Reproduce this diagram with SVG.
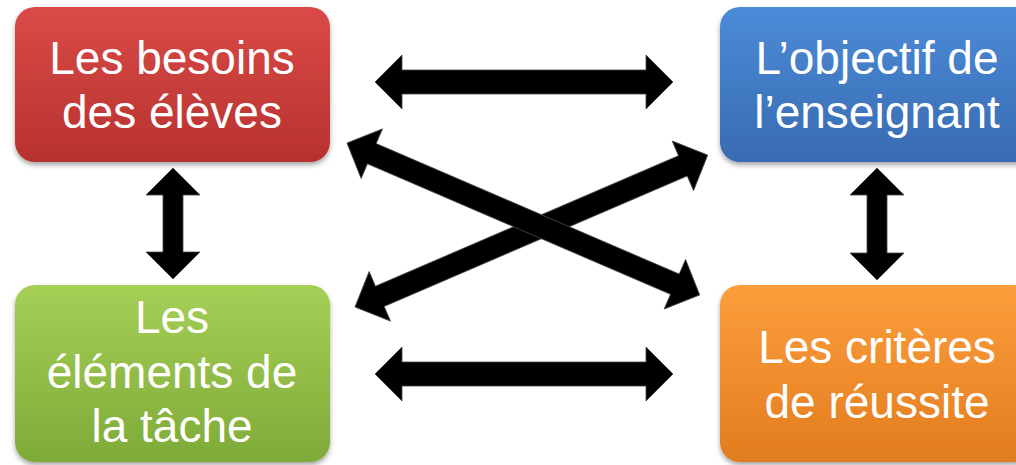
<svg xmlns="http://www.w3.org/2000/svg" width="1016" height="465" viewBox="0 0 1016 465">
<style>
.box{stroke:none;filter:url(#sh)}
.lbl{font-family:"Liberation Sans",Arial,sans-serif;font-size:46px;fill:#fff;text-anchor:middle}
.arr{fill:#000;stroke:#444;stroke-width:0.8}
</style>
<defs>
<linearGradient id="gr" x1="0" y1="0" x2="0" y2="1"><stop offset="0" stop-color="#DA4A47"/><stop offset="1" stop-color="#B73230"/></linearGradient>
<linearGradient id="gb" x1="0" y1="0" x2="0" y2="1"><stop offset="0" stop-color="#4C8BD8"/><stop offset="1" stop-color="#386BB1"/></linearGradient>
<linearGradient id="gg" x1="0" y1="0" x2="0" y2="1"><stop offset="0" stop-color="#A6CF56"/><stop offset="1" stop-color="#7EAA38"/></linearGradient>
<linearGradient id="go" x1="0" y1="0" x2="0" y2="1"><stop offset="0" stop-color="#FC9E3B"/><stop offset="1" stop-color="#E27C20"/></linearGradient>
<filter id="sh" x="-10%" y="-10%" width="120%" height="125%"><feDropShadow dx="0" dy="3" stdDeviation="2.5" flood-color="#000" flood-opacity="0.35"/></filter>
</defs>
<g id="connectors">
<path class="arr" transform="translate(375,82)" d="M0,0 L27,-27 L27,-12 L271,-12 L271,-27 L298,0 L271,27 L271,12 L27,12 L27,27 Z"/>
<path class="arr" transform="translate(375,374)" d="M0,0 L27,-27 L27,-12 L271,-12 L271,-27 L298,0 L271,27 L271,12 L27,12 L27,27 Z"/>
<path class="arr" transform="translate(173,168) rotate(90)" d="M0,0 L27,-27 L27,-10 L84,-10 L84,-27 L111,0 L84,27 L84,10 L27,10 L27,27 Z"/>
<path class="arr" transform="translate(877,168) rotate(90)" d="M0,0 L27,-27 L27,-10 L85,-10 L85,-27 L112,0 L85,27 L85,10 L27,10 L27,27 Z"/>
<path class="arr" transform="translate(355,307) rotate(-23.3)" d="M0,0 L27,-27 L27,-11 L357,-11 L357,-27 L384,0 L357,27 L357,11 L27,11 L27,27 Z"/>
<path class="arr" transform="translate(347,143) rotate(23.3)" d="M0,0 L27,-27 L27,-11 L357,-11 L357,-27 L384,0 L357,27 L357,11 L27,11 L27,27 Z"/>
</g>
<g id="besoins">
<rect class="box" x="15" y="7" width="315" height="155" rx="20" fill="url(#gr)"/>
<text class="lbl" x="172" y="74">Les besoins</text>
<text class="lbl" x="172" y="128">des élèves</text>
</g>
<g id="objectif">
<rect class="box" x="720" y="7" width="315" height="155" rx="20" fill="url(#gb)"/>
<text class="lbl" x="877" y="74">L’objectif de</text>
<text class="lbl" x="877" y="128">l’enseignant</text>
</g>
<g id="elements">
<rect class="box" x="15" y="285" width="315" height="177" rx="20" fill="url(#gg)"/>
<text class="lbl" x="172" y="333">Les</text>
<text class="lbl" x="172" y="388">éléments de</text>
<text class="lbl" x="172" y="442">la tâche</text>
</g>
<g id="criteres">
<rect class="box" x="720" y="285" width="315" height="177" rx="20" fill="url(#go)"/>
<text class="lbl" x="877" y="363">Les critères</text>
<text class="lbl" x="877" y="418">de réussite</text>
</g>
</svg>
